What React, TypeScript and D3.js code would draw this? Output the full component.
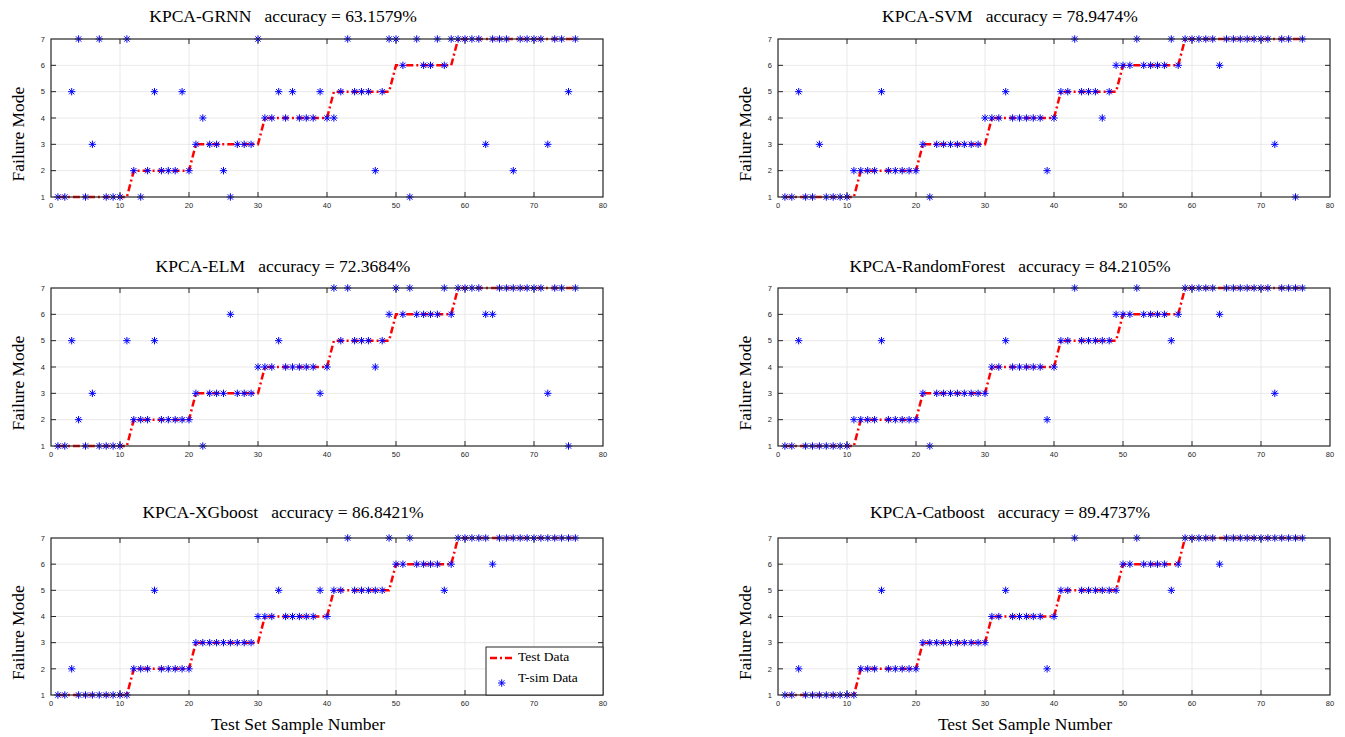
import React from 'react';
import * as d3 from 'd3';

// ---------- data ----------
const sampleNumbers = [
  1, 2, 3, 4, 5, 6, 7, 8, 9, 10, 11, 12, 13, 14, 15, 16, 17, 18, 19, 20,
  21, 22, 23, 24, 25, 26, 27, 28, 29, 30, 31, 32, 33, 34, 35, 36, 37, 38, 39, 40,
  41, 42, 43, 44, 45, 46, 47, 48, 49, 50, 51, 52, 53, 54, 55, 56, 57, 58, 59, 60,
  61, 62, 63, 64, 65, 66, 67, 68, 69, 70, 71, 72, 73, 74, 75, 76,
];

const testData = [
  1, 1, 1, 1, 1, 1, 1, 1, 1, 1, 1,
  2, 2, 2, 2, 2, 2, 2, 2, 2,
  3, 3, 3, 3, 3, 3, 3, 3, 3, 3,
  4, 4, 4, 4, 4, 4, 4, 4, 4, 4,
  5, 5, 5, 5, 5, 5, 5, 5, 5,
  6, 6, 6, 6, 6, 6, 6, 6, 6,
  7, 7, 7, 7, 7, 7, 7, 7, 7, 7, 7, 7, 7, 7, 7, 7, 7, 7,
];

const simGRNN = [
  1, 1, 5, 7, 1, 3, 7, 1, 1, 1, 7,
  2, 1, 2, 5, 2, 2, 2, 5, 2,
  3, 4, 3, 3, 2, 1, 3, 3, 3, 7,
  4, 4, 5, 4, 5, 4, 4, 4, 5, 4,
  4, 5, 7, 5, 5, 5, 2, 5, 7,
  7, 6, 1, 7, 6, 6, 7, 6, 7,
  7, 7, 7, 7, 3, 7, 7, 7, 2, 7, 7, 7, 7, 3, 7, 7, 5, 7,
];

const simSVM = [
  1, 1, 5, 1, 1, 3, 1, 1, 1, 1, 2,
  2, 2, 2, 5, 2, 2, 2, 2, 2,
  3, 1, 3, 3, 3, 3, 3, 3, 3, 4,
  4, 4, 5, 4, 4, 4, 4, 4, 2, 4,
  5, 5, 7, 5, 5, 5, 4, 5, 6,
  6, 6, 7, 6, 6, 6, 6, 7, 6,
  7, 7, 7, 7, 7, 6, 7, 7, 7, 7, 7, 7, 7, 3, 7, 7, 1, 7,
];

const simELM = [
  1, 1, 5, 2, 1, 3, 1, 1, 1, 1, 5,
  2, 2, 2, 5, 2, 2, 2, 2, 2,
  3, 1, 3, 3, 3, 6, 3, 3, 3, 4,
  4, 4, 5, 4, 4, 4, 4, 4, 3, 4,
  7, 5, 7, 5, 5, 5, 4, 5, 6,
  7, 6, 7, 6, 6, 6, 6, 7, 6,
  7, 7, 7, 7, 6, 6, 7, 7, 7, 7, 7, 7, 7, 3, 7, 7, 1, 7,
];

const simRF = [
  1, 1, 5, 1, 1, 1, 1, 1, 1, 1, 2,
  2, 2, 2, 5, 2, 2, 2, 2, 2,
  3, 1, 3, 3, 3, 3, 3, 3, 3, 3,
  4, 4, 5, 4, 4, 4, 4, 4, 2, 4,
  5, 5, 7, 5, 5, 5, 5, 5, 6,
  6, 6, 7, 6, 6, 6, 6, 5, 6,
  7, 7, 7, 7, 7, 6, 7, 7, 7, 7, 7, 7, 7, 3, 7, 7, 7, 7,
];

const simXGB = [
  1, 1, 2, 1, 1, 1, 1, 1, 1, 1, 1,
  2, 2, 2, 5, 2, 2, 2, 2, 2,
  3, 3, 3, 3, 3, 3, 3, 3, 3, 4,
  4, 4, 5, 4, 4, 4, 4, 4, 5, 4,
  5, 5, 7, 5, 5, 5, 5, 5, 7,
  6, 6, 7, 6, 6, 6, 6, 5, 6,
  7, 7, 7, 7, 7, 6, 7, 7, 7, 7, 7, 7, 7, 7, 7, 7, 7, 7,
];

const simCat = [
  1, 1, 2, 1, 1, 1, 1, 1, 1, 1, 1,
  2, 2, 2, 5, 2, 2, 2, 2, 2,
  3, 3, 3, 3, 3, 3, 3, 3, 3, 3,
  4, 4, 5, 4, 4, 4, 4, 4, 2, 4,
  5, 5, 7, 5, 5, 5, 5, 5, 5,
  6, 6, 7, 6, 6, 6, 6, 5, 6,
  7, 7, 7, 7, 7, 6, 7, 7, 7, 7, 7, 7, 7, 7, 7, 7, 7, 7,
];

const modelNames = ['KPCA-GRNN', 'KPCA-SVM', 'KPCA-ELM', 'KPCA-RandomForest', 'KPCA-XGboost', 'KPCA-Catboost'];
const accuracies = ['63.1579%', '78.9474%', '72.3684%', '84.2105%', '86.8421%', '89.4737%'];
const simSeries = [simGRNN, simSVM, simELM, simRF, simXGB, simCat];

const xTicks = [0, 10, 20, 30, 40, 50, 60, 70, 80];
const yTicks = [1, 2, 3, 4, 5, 6, 7];
const legendLabels = ['Test Data', 'T-sim Data'];

// ---------- layout ----------
const colX = [
  [51, 603],
  [778, 1330],
];
const rowY = [
  [39, 197],
  [288, 446],
  [538, 695],
];
const titleBaseline = [22, 272, 518];

const SERIF = '"Liberation Serif", "Times New Roman", Times, serif';
const SANS = '"Liberation Sans", Arial, Helvetica, sans-serif';
const AX = '#262626';

function asteriskPath(r: number) {
  const a = r * 0.72;
  return `M${-r},0L${r},0M0,${-r}L0,${r}M${-a},${-a}L${a},${a}M${-a},${a}L${a},${-a}`;
}
const STAR = asteriskPath(3.7);

type PlotProps = {
  idx: number;
  col: number;
  row: number;
};

function Subplot({ idx, col, row }: PlotProps) {
  const [x0, x1] = colX[col];
  const [y0, y1] = rowY[row];
  const x = d3.scaleLinear().domain([0, 80]).range([x0, x1]);
  const y = d3.scaleLinear().domain([1, 7]).range([y1, y0]);
  const sim = simSeries[idx];
  const line = d3
    .line<number>()
    .x((_, i) => x(sampleNumbers[i]))
    .y((d) => y(d));
  const tickLen = 5;
  const cx = (x0 + x1) / 2;
  const cy = (y0 + y1) / 2;
  return (
    <g>
      {/* grid */}
      {xTicks.slice(1, -1).map((t) => (
        <line key={'gx' + t} x1={x(t)} x2={x(t)} y1={y0} y2={y1} stroke="#e3e3e3" strokeWidth={0.8} />
      ))}
      {yTicks.slice(1, -1).map((t) => (
        <line key={'gy' + t} x1={x0} x2={x1} y1={y(t)} y2={y(t)} stroke="#e3e3e3" strokeWidth={0.8} />
      ))}
      {/* ticks inward */}
      {xTicks.slice(1, -1).map((t) => (
        <g key={'tx' + t}>
          <line x1={x(t)} x2={x(t)} y1={y1} y2={y1 - tickLen} stroke={AX} strokeWidth={1} />
          <line x1={x(t)} x2={x(t)} y1={y0} y2={y0 + tickLen} stroke={AX} strokeWidth={1} />
        </g>
      ))}
      {yTicks.slice(1, -1).map((t) => (
        <g key={'ty' + t}>
          <line x1={x0} x2={x0 + tickLen} y1={y(t)} y2={y(t)} stroke={AX} strokeWidth={1} />
          <line x1={x1} x2={x1 - tickLen} y1={y(t)} y2={y(t)} stroke={AX} strokeWidth={1} />
        </g>
      ))}
      {/* tick labels */}
      {xTicks.map((t) => (
        <text key={'lx' + t} x={x(t)} y={y1 + 11} fontFamily={SANS} fontSize={7.5} fill={AX} textAnchor="middle">
          {t}
        </text>
      ))}
      {yTicks.map((t) => (
        <text key={'ly' + t} x={x0 - 6} y={y(t) + 2.7} fontFamily={SANS} fontSize={7.5} fill={AX} textAnchor="end">
          {t}
        </text>
      ))}
      {/* test data line */}
      <path
        d={line(testData) || ''}
        fill="none"
        stroke="#ff0000"
        strokeWidth={2.5}
        strokeDasharray="7,3,2,3"
      />
      {/* sim markers */}
      {sim.map((v, i) => (
        <path
          key={'m' + i}
          d={STAR}
          transform={`translate(${x(sampleNumbers[i])},${y(v)})`}
          stroke="#0000ff"
          strokeWidth={1}
          fill="none"
        />
      ))}
      {/* box */}
      <rect x={x0} y={y0} width={x1 - x0} height={y1 - y0} fill="none" stroke={AX} strokeWidth={1.2} />
      {/* title */}
      <text
        x={cx - 44}
        y={titleBaseline[row]}
        fontFamily={SERIF}
        fontSize={17.5}
        fill="#000"
        textAnchor="middle"
        style={{ whiteSpace: 'pre' }}
      >
        {`${modelNames[idx]}   accuracy = ${accuracies[idx]}`}
      </text>
      {/* y label */}
      <text
        transform={`translate(${x0 - 27},${cy + 16}) rotate(-90)`}
        fontFamily={SERIF}
        fontSize={17.5}
        fill="#000"
        textAnchor="middle"
      >
        Failure Mode
      </text>
      {row === 2 && (
        <text x={cx - 29} y={y1 + 35} fontFamily={SERIF} fontSize={17.5} fill="#000" textAnchor="middle">
          Test Set Sample Number
        </text>
      )}
      {idx === 4 && (
        <g>
          <rect x={486} y={647} width={x1 - 486} height={y1 - 647} fill="#fff" stroke={AX} strokeWidth={1} />
          <line x1={490} x2={515} y1={658} y2={658} stroke="#ff0000" strokeWidth={2.5} strokeDasharray="7,3,2,3" />
          <text x={518} y={660.5} fontFamily={SERIF} fontSize={13.5} fill="#000">
            {legendLabels[0]}
          </text>
          <path d={STAR} transform="translate(501.7,683)" stroke="#0000ff" strokeWidth={1} fill="none" />
          <text x={518} y={682} fontFamily={SERIF} fontSize={13.5} fill="#000">
            {legendLabels[1]}
          </text>
        </g>
      )}
    </g>
  );
}

export default function App() {
  const panels = [
    { idx: 0, col: 0, row: 0 },
    { idx: 1, col: 1, row: 0 },
    { idx: 2, col: 0, row: 1 },
    { idx: 3, col: 1, row: 1 },
    { idx: 4, col: 0, row: 2 },
    { idx: 5, col: 1, row: 2 },
  ];
  return (
    <svg
      width={1345}
      height={737}
      style={{ position: 'absolute', left: 0, top: 0, background: '#fff' }}
    >
      <rect x={0} y={0} width={1345} height={737} fill="#fff" />
      {panels.map((p) => (
        <Subplot key={p.idx} {...p} />
      ))}
    </svg>
  );
}
